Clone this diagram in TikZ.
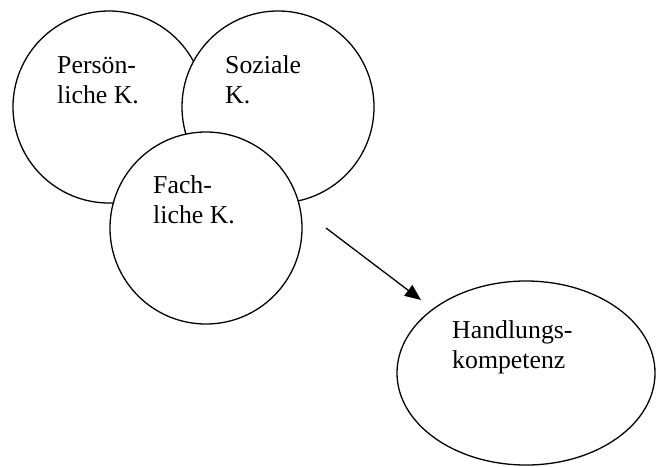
\documentclass[tikz,border=0pt]{standalone}
\usepackage{fontspec}
\setmainfont{Liberation Serif}
\usetikzlibrary{arrows.meta, shapes.geometric}

\begin{document}
\begin{tikzpicture}[x=0.03cm, y=-0.03cm,
    every node/.style={font=\fontsize{22}{25.6}\selectfont},
    kreis/.style={circle, draw, fill=white, line width=1.1pt, inner sep=0pt, minimum size=5.76cm},
    labeltext/.style={anchor=base west, align=left, inner sep=0pt},
    arrow/.style={-{Triangle[length=0.48cm, width=0.4cm]}, line width=1.1pt}
]
\useasboundingbox (0,0) rectangle (656,466);
% the three overlapping competences
\node[kreis] (persoenlich) at (109,107) {};
\node[labeltext] (tpers) at (57,103) {Persön-\\liche K.};
\node[kreis] (sozial) at (278,107) {};
\node[labeltext] (tsoz) at (225,103) {Soziale\\K.};
\node[kreis] (fachlich) at (206,228) {};
\node[labeltext] (tfach) at (153,223) {Fach-\\liche K.};
% result
\node[ellipse, draw, line width=1.1pt, inner sep=0pt, minimum width=7.74cm, minimum height=5.52cm] (handlung) at (526,373) {};
\node[labeltext] (thand) at (452,368) {Handlungs-\\kompetenz};
\coordinate (pfeilstart) at (326,228);
\coordinate (pfeilende) at (421,300);
\draw[arrow] (pfeilstart) -- (pfeilende);
\end{tikzpicture}
\end{document}
